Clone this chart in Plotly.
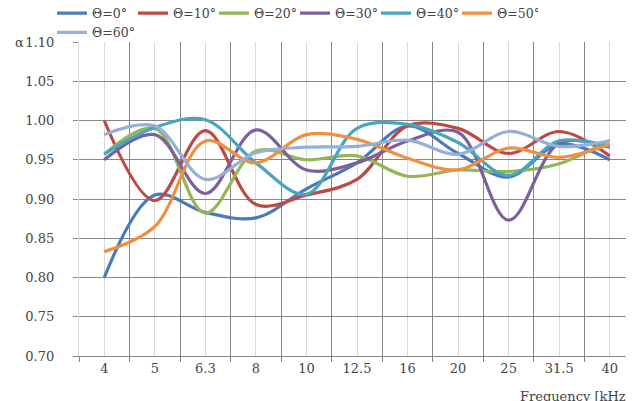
import plotly.graph_objects as go

freq_labels = ["4", "5", "6.3", "8", "10", "12.5", "16", "20", "25", "31.5", "40"]
theta_0 = [0.800, 0.905, 0.883, 0.876, 0.913, 0.946, 0.993, 0.958, 0.928, 0.970, 0.950]
theta_10 = [1.000, 0.898, 0.987, 0.893, 0.905, 0.925, 0.993, 0.990, 0.958, 0.986, 0.955]
theta_20 = [0.957, 0.990, 0.882, 0.961, 0.950, 0.955, 0.929, 0.937, 0.935, 0.945, 0.975]
theta_30 = [0.950, 0.982, 0.907, 0.988, 0.937, 0.946, 0.974, 0.985, 0.873, 0.971, 0.966]
theta_40 = [0.957, 0.991, 1.001, 0.946, 0.906, 0.990, 0.995, 0.972, 0.930, 0.974, 0.966]
theta_50 = [0.833, 0.865, 0.974, 0.946, 0.982, 0.976, 0.952, 0.937, 0.965, 0.953, 0.970]
theta_60 = [0.982, 0.993, 0.925, 0.959, 0.966, 0.967, 0.975, 0.957, 0.986, 0.967, 0.974]

series_names = ["Θ=0°", "Θ=10°", "Θ=20°", "Θ=30°", "Θ=40°", "Θ=50°", "Θ=60°"]
series_values = [theta_0, theta_10, theta_20, theta_30, theta_40, theta_50, theta_60]
colors = ["#4a7ab8", "#bb4a46", "#95b654", "#7b5f9e", "#46a6c0", "#f08f40", "#93b1d8"]

x_idx = list(range(len(freq_labels)))

FONT = "DejaVu Serif"
f13 = dict(family=FONT, size=13)
fleg = dict(family=FONT, size=12.5)

fig = go.Figure()
for name, vals, col in zip(series_names, series_values, colors):
    fig.add_trace(go.Scatter(
        x=x_idx, y=vals, name=name, mode="lines",
        line=dict(color=col, width=3.2, shape="spline", smoothing=1.0),
    ))

W, H = 634, 401
L, R, T, B = 71, 7, 34, 53
pw, ph = W - L - R, H - T - B

fig.update_layout(
    template="none",
    width=W, height=H,
    margin=dict(l=L, r=R, t=T, b=B, autoexpand=False),
    plot_bgcolor="white", paper_bgcolor="white",
    font=f13,
    showlegend=True,
    legend=dict(
        orientation="h", xref="container", yref="container",
        x=44 / W, xanchor="left", y=1 - 15 / H, yanchor="middle",
        font=fleg,
        entrywidth=36, entrywidthmode="pixels",
        itemwidth=30, tracegroupgap=0,
        bgcolor="rgba(0,0,0,0)",
    ),
    xaxis=dict(
        range=[-0.5, len(freq_labels) - 0.5],
        tickmode="array", tickvals=x_idx, ticktext=freq_labels,
        tickfont=f13,
        ticks="", ticklen=0, showgrid=True, gridcolor="#d9d9d9", gridwidth=1,
        showline=True, linecolor="#868686", linewidth=1,
        zeroline=False, ticklabelstandoff=0, automargin=False,
        minor=dict(
            tickmode="array",
            tickvals=[i - 0.5 for i in range(len(freq_labels) + 1)],
            ticks="outside", ticklen=5, tickcolor="#868686", tickwidth=1,
            showgrid=True, gridcolor="#868686", gridwidth=1,
        ),
    ),
    yaxis=dict(
        range=[0.70, 1.10], tick0=0.70, dtick=0.05, tickformat=".2f",
        ticksuffix="\u00a0",
        tickfont=f13,
        ticks="outside", ticklen=5, tickcolor="#868686", tickwidth=1,
        showgrid=True, gridcolor="#868686", gridwidth=1,
        showline=True, linecolor="#d9d9d9", linewidth=1,
        zeroline=False, ticklabelstandoff=12, automargin=False,
    ),
    annotations=[
        dict(text="α", xref="paper", yref="paper",
             x=(11 - L) / pw, y=1.0, xanchor="center", yanchor="middle",
             showarrow=False, font=f13),
        dict(text="Frequency [kHz]", xref="paper", yref="paper",
             x=(625 - L) / pw, y=(H - B - 388) / ph, xanchor="right", yanchor="middle",
             showarrow=False, font=f13),
    ],
)

fig.write_html("out.html")
